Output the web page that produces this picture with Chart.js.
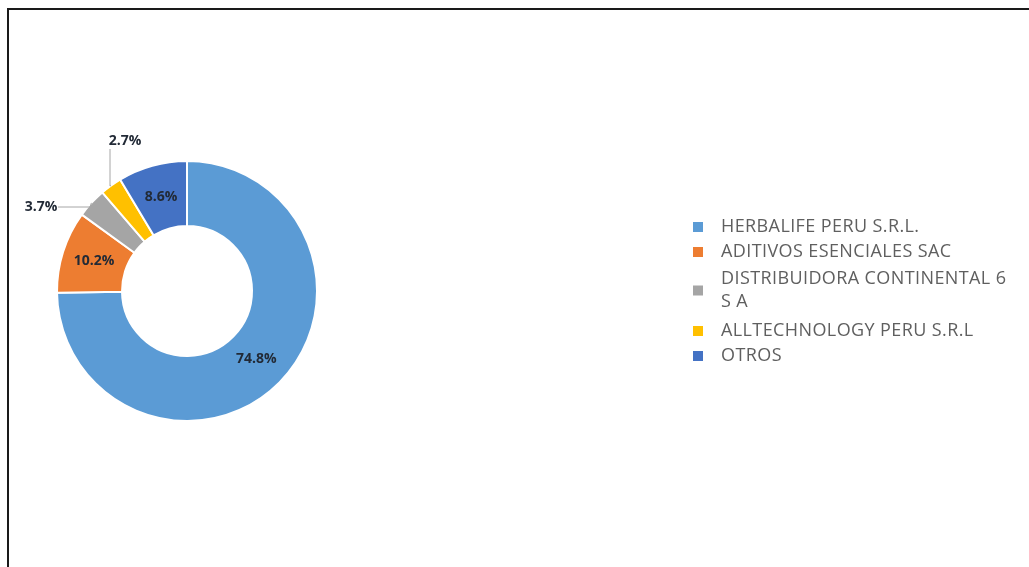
<!DOCTYPE html>
<html>
<head>
<meta charset="utf-8">
<script src="https://cdn.jsdelivr.net/npm/chart.js@4.4.0/dist/chart.umd.min.js"></script>
<style>
    html, body { margin: 0; padding: 0; background: #fff; }
    #wrap { position: relative; width: 1029px; height: 567px; overflow: hidden; }
    #frame { position: absolute; left: 7px; top: 8px; width: 1040px; height: 600px;
             border-left: 2px solid #1a1a1a; border-top: 2px solid #1a1a1a; }
    #chart { position: absolute; left: 0; top: 0; }
</style>
</head>
<body>
<div id="wrap">
    <div id="frame"></div>
    <canvas id="chart" width="1029" height="567"></canvas>
</div>
<script>
const companies = [
    'HERBALIFE PERU S.R.L.',
    'ADITIVOS ESENCIALES SAC',
    'DISTRIBUIDORA CONTINENTAL 6 S A',
    'ALLTECHNOLOGY PERU S.R.L',
    'OTROS'
];
const shares = [74.8, 10.2, 3.7, 2.7, 8.6];
const sliceColors = ['#5B9BD5', '#ED7D31', '#A5A5A5', '#FFC000', '#4472C4'];

// labels for the thin slices sit outside with a leader line
const outsideLabels = {
    2: { x: 41, y: 207, bend: [90, 207] },
    3: { x: 125, y: 141, bend: [110, 186], top: [110, 149] }
};

const sliceLabels = {
    id: 'sliceLabels',
    afterDatasetsDraw(chart) {
        const ctx = chart.ctx;
        const meta = chart.getDatasetMeta(0);
        ctx.save();
        ctx.font = 'bold 14px "Open Sans"';
        ctx.fillStyle = '#222a36';
        ctx.textBaseline = 'middle';
        ctx.textAlign = 'center';
        meta.data.forEach(function (arc, i) {
            const txt = shares[i].toFixed(1) + '%';
            const p = arc.getProps(['x', 'y', 'startAngle', 'endAngle', 'innerRadius', 'outerRadius'], true);
            const mid = (p.startAngle + p.endAngle) / 2;
            const out = outsideLabels[i];
            if (!out) {
                const r = (p.innerRadius + p.outerRadius) / 2;
                ctx.fillText(txt, p.x + Math.cos(mid) * r, p.y + Math.sin(mid) * r);
                return;
            }
            const ax = p.x + Math.cos(mid) * p.outerRadius;
            const ay = p.y + Math.sin(mid) * p.outerRadius;
            ctx.strokeStyle = '#A6A6A6';
            ctx.lineWidth = 1;
            ctx.beginPath();
            ctx.moveTo(ax, ay);
            ctx.lineTo(out.bend[0], out.bend[1]);
            if (out.top) {
                ctx.lineTo(out.top[0], out.top[1]);
            } else {
                ctx.lineTo(out.x + 17, out.y);
            }
            ctx.stroke();
            ctx.fillText(txt, out.x, out.y);
        });
        ctx.restore();
    }
};

const sideLegend = {
    id: 'sideLegend',
    afterDraw(chart) {
        const ctx = chart.ctx;
        const x0 = 693, textX = 721, maxW = 292, lineH = 23, gap = 2, wrapPad = 2;
        let y = 227;
        ctx.save();
        ctx.font = '18px "Open Sans"';
        ctx.letterSpacing = '0.4px';
        ctx.textBaseline = 'middle';
        ctx.textAlign = 'left';
        chart.data.labels.forEach(function (label, i) {
            const words = label.split(' ');
            const lines = [];
            let cur = '';
            words.forEach(function (w) {
                const t = cur ? cur + ' ' + w : w;
                if (ctx.measureText(t).width > maxW && cur) {
                    lines.push(cur);
                    cur = w;
                } else {
                    cur = t;
                }
            });
            lines.push(cur);
            if (lines.length > 1) y += wrapPad;
            const midY = y + (lines.length - 1) * lineH / 2;
            ctx.fillStyle = sliceColors[i];
            ctx.fillRect(x0, midY - 5, 10, 10);
            ctx.fillStyle = '#5f5f5f';
            lines.forEach(function (l, k) {
                ctx.fillText(l, textX, y + k * lineH);
            });
            y += lines.length * lineH + gap + (lines.length > 1 ? wrapPad * 2 : 0);
        });
        ctx.restore();
    }
};

new Chart(document.getElementById('chart'), {
    type: 'doughnut',
    data: {
        labels: companies,
        datasets: [{
            data: shares,
            backgroundColor: sliceColors,
            borderColor: '#ffffff',
            borderWidth: 2
        }]
    },
    options: {
        responsive: false,
        animation: false,
        cutout: '50%',
        layout: {
            padding: { left: 56, top: 160, right: 711, bottom: 145 }
        },
        plugins: {
            legend: { display: false },
            tooltip: { enabled: false }
        }
    },
    plugins: [sliceLabels, sideLegend]
});
</script>
</body>
</html>
